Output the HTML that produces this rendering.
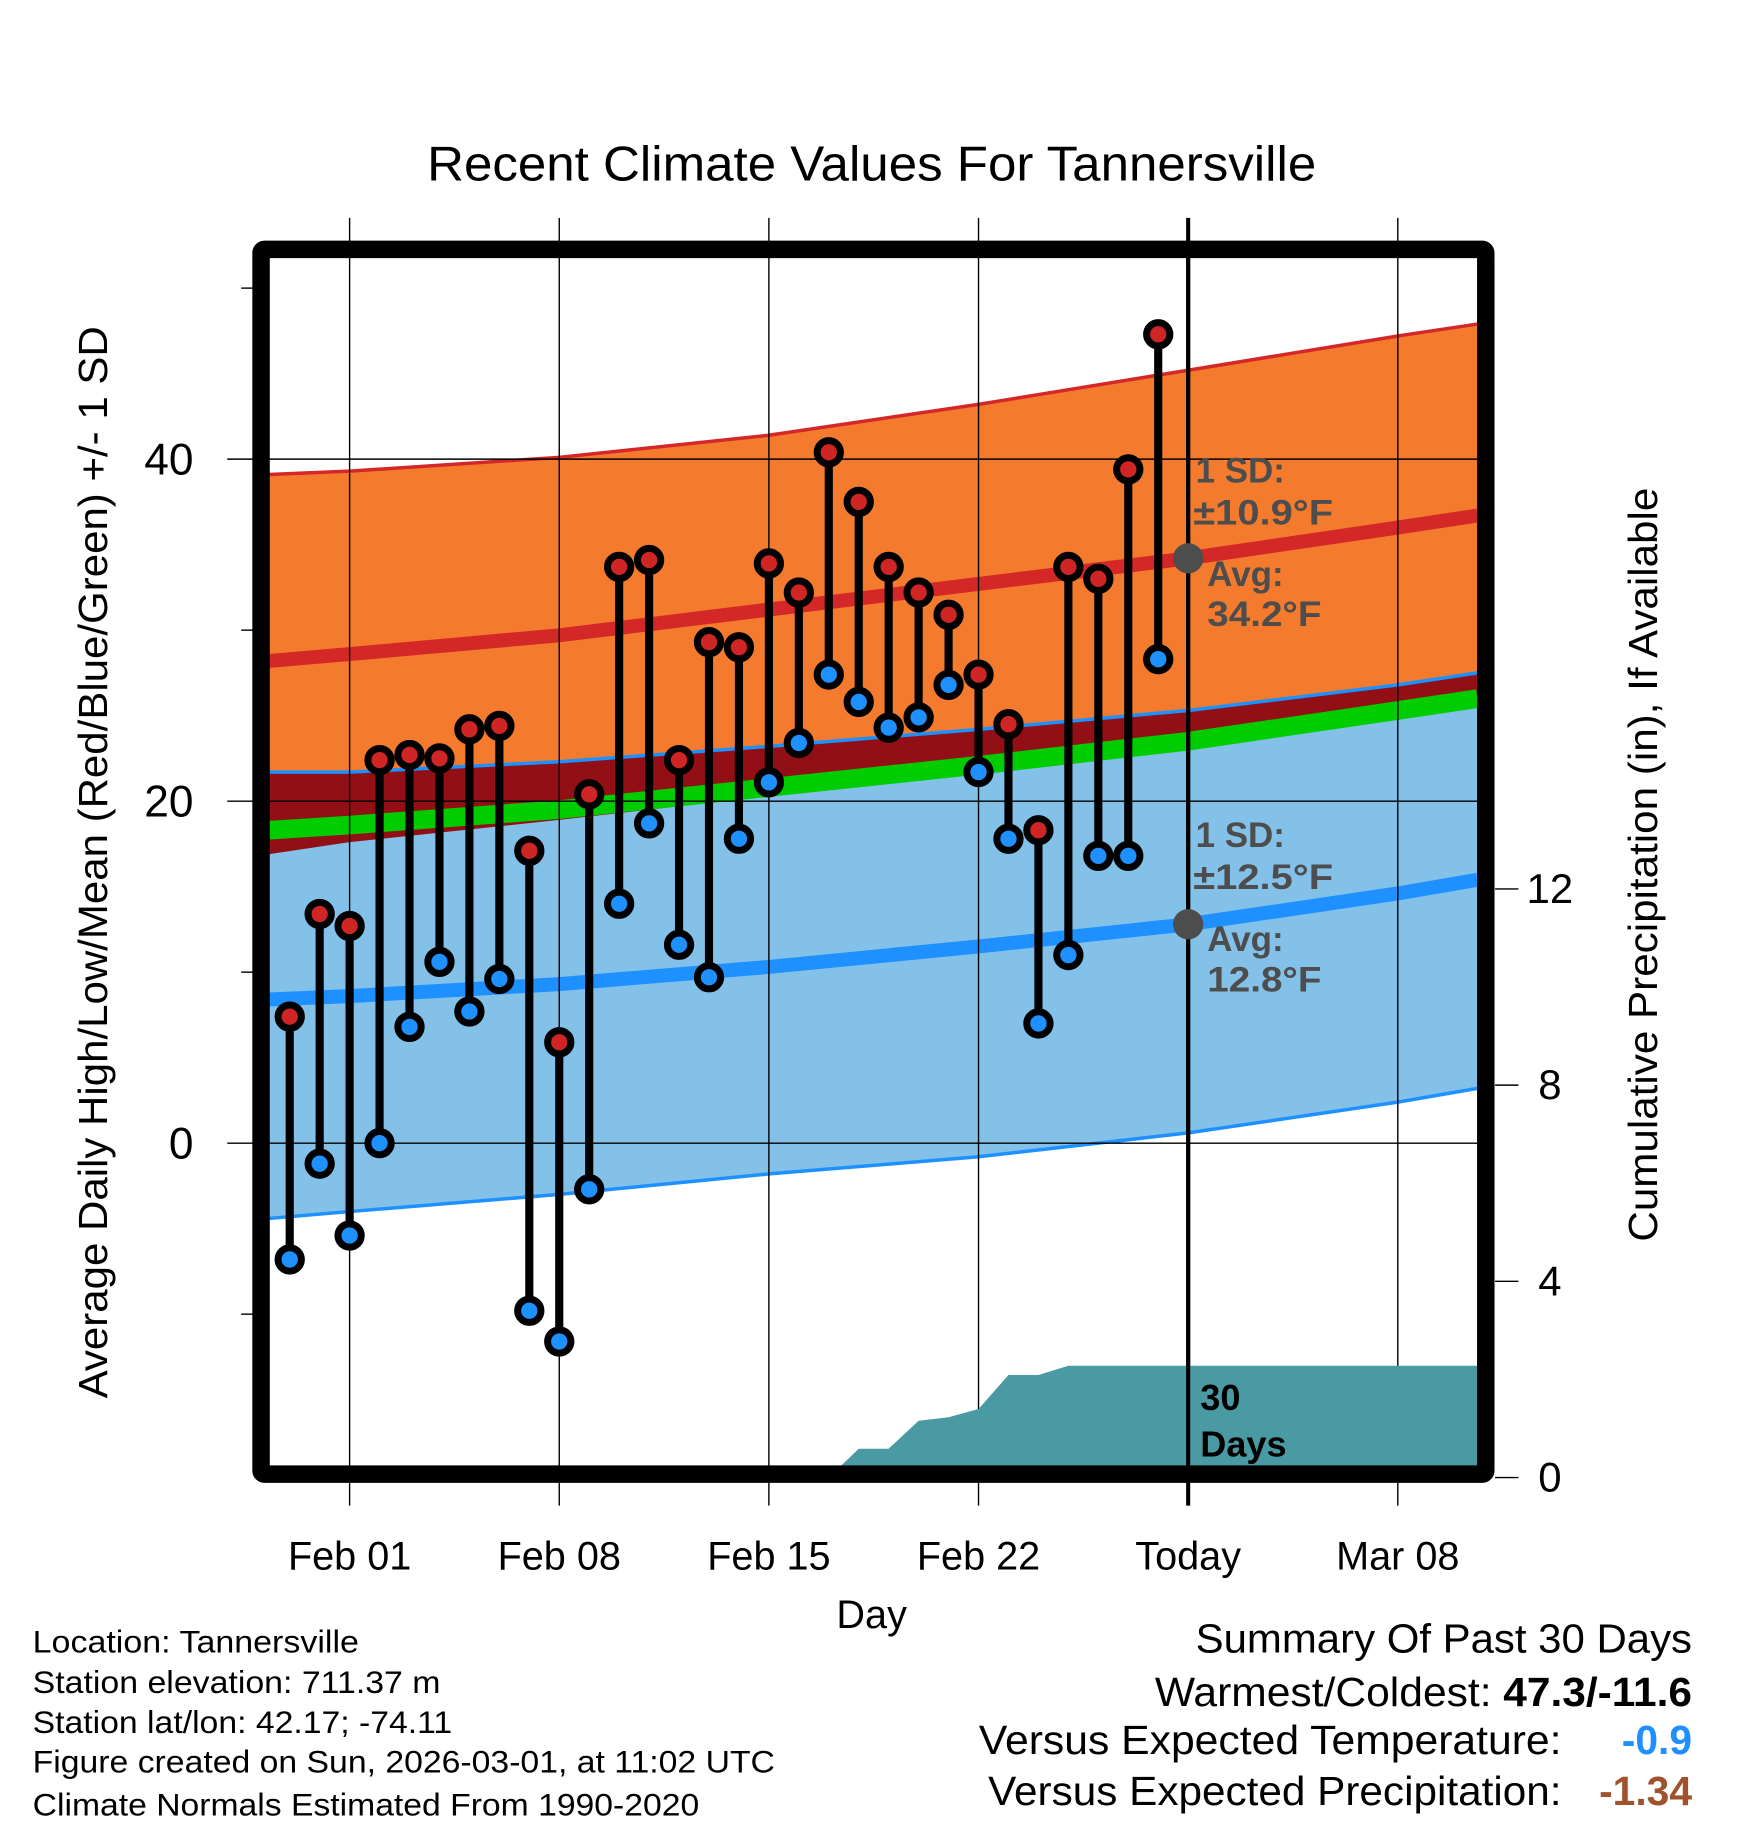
<!DOCTYPE html>
<html><head><meta charset="utf-8"><style>
html,body{margin:0;padding:0;background:#fff;}
svg{display:block;font-family:"Liberation Sans",sans-serif;}
</style></head><body>
<svg id="chart" xmlns="http://www.w3.org/2000/svg" width="1748" height="1828" viewBox="0 0 1500 1568.7">
<g id="bands"></g>
<g id="grid"></g>
<g id="precip"></g>
<g id="marks"></g>
<g id="frame"></g>
<g id="labels"></g>
</svg>
<script>
// ---- data ----
const days = [-2,-1,0,1,2,3,4,5,6,7,8,9,10,11,12,13,14,15,16,17,18,19,20,21,22,23,24,25,26,27];
const highs = [7.4,13.4,12.7,22.4,22.7,22.5,24.2,24.4,17.1,5.9,20.4,33.7,34.1,22.4,29.3,29.0,33.9,32.2,40.4,37.5,33.7,32.2,30.9,27.4,24.5,18.3,33.7,33.0,39.4,47.3];
const lows = [-6.8,-1.2,-5.4,0,6.8,10.6,7.7,9.6,-9.8,-11.6,-2.7,14.0,18.7,11.6,9.7,17.8,21.1,23.4,27.4,25.8,24.3,24.9,26.8,21.7,17.8,7.0,11.0,16.8,16.8,28.3];
const normDays = [-2.68,0,7,14,21,28,35,37.66];
const highUpper = [39.1,39.3,40.1,41.4,43.2,45.2,47.2,47.9];
const highMean = [28.2,28.6,29.7,31.2,32.7,34.2,36.0,36.7];
const highLower = [16.9,17.6,18.9,20.3,21.8,23.3,25.2,26.0];
const lowUpper = [21.7,21.7,22.3,23.2,24.2,25.3,26.8,27.5];
const lowMean = [8.4,8.6,9.3,10.3,11.5,12.8,14.6,15.4];
const lowLower = [-4.4,-4.0,-3.0,-1.8,-0.8,0.6,2.4,3.2];
const meanLine = [18.3,18.6,19.5,20.8,22.1,23.5,25.3,26.0];
const precipDays = [15.6,16,17,18,19,20,21,22,23,24,37.66];
const precipVals = [0,0,0.59,0.59,1.16,1.23,1.40,2.09,2.09,2.28,2.28];
const xTickDays = [0,7,14,21,28,35];
const xTickLabels = ["Feb 01","Feb 08","Feb 15","Feb 22","Today","Mar 08"];
const yTicks = [0,20,40];
const yMinor = [-10,10,30,50];
const pTicks = [0,4,8,12];

// ---- axes ----
const X0=231,X1=1268,Y0=221,Y1=1259;
const xs = d => 300 + d*25.7;
const ys = t => 981 - t*14.675;
const ps = p => 1268 - p*42.1;
const NS="http://www.w3.org/2000/svg";
function mk(tag, attrs, parent){const e=document.createElementNS(NS,tag);for(const k in attrs)e.setAttribute(k,attrs[k]);parent.appendChild(e);return e;}
const G=id=>document.getElementById(id);

function lineD(arr){return arr.map((v,i)=>(i?'L':'M')+xs(normDays[i]).toFixed(1)+','+ys(v).toFixed(1)).join(' ');}
function bandD(up,lo){let d=lineD(up);for(let i=lo.length-1;i>=0;i--)d+=' L'+xs(normDays[i]).toFixed(1)+','+ys(lo[i]).toFixed(1);return d+' Z';}
const defs=mk('defs',{},G('chart'));
const cp=mk('clipPath',{id:'clipplot'},defs);
mk('rect',{x:X0,y:Y0,width:X1-X0,height:Y1-Y0},cp);

const B=G('bands'); B.setAttribute('clip-path','url(#clipplot)');
let e;
e=mk('path',{d:bandD(highUpper,highLower),fill:'#f47b2e'},B);


e=mk('path',{d:bandD(lowUpper,lowLower),fill:'#83c1e8'},B);


const ovUp=lowUpper.map((v,i)=>Math.min(v,highUpper[i])), ovLo=highLower.map((v,i)=>Math.max(v,lowLower[i]));
e=mk('path',{d:bandD(ovUp,ovLo),fill:'#920f15'},B);


e=mk('path',{d:lineD(meanLine),fill:'none',stroke:'#00cc00','stroke-width':16},B);


e=mk('path',{d:lineD(highUpper),fill:'none',stroke:'#d42828','stroke-width':3},B);


e=mk('path',{d:lineD(highMean),fill:'none',stroke:'#d42828','stroke-width':12},B);


e=mk('path',{d:lineD(lowUpper),fill:'none',stroke:'#1e90ff','stroke-width':3},B);


e=mk('path',{d:lineD(lowMean),fill:'none',stroke:'#1e90ff','stroke-width':12},B);


e=mk('path',{d:lineD(lowLower),fill:'none',stroke:'#1e90ff','stroke-width':3},B);



// grid
const GR=G('grid');
xTickDays.forEach(d=>{e=mk('line',{x1:xs(d),x2:xs(d),y1:187,y2:1292,stroke:'#000','stroke-width':d===28?3.5:1.2},GR);

});
yTicks.forEach(t=>{e=mk('line',{x1:195,x2:X1,y1:ys(t),y2:ys(t),stroke:'#000','stroke-width':1.2},GR);

});
yMinor.forEach(t=>{e=mk('line',{x1:207,x2:217,y1:ys(t),y2:ys(t),stroke:'#000','stroke-width':1.2},GR);

});
pTicks.forEach(p=>{e=mk('line',{x1:1283,x2:1303,y1:ps(p),y2:ps(p),stroke:'#000','stroke-width':1.2},GR);

});

// precip
const P=G('precip'); P.setAttribute('clip-path','url(#clipplot)');
let pd='M'+xs(precipDays[0])+','+ps(0);
precipDays.forEach((d,i)=>pd+=' L'+xs(d).toFixed(1)+','+ps(precipVals[i]).toFixed(1));
pd+=' L'+xs(precipDays[precipDays.length-1]).toFixed(1)+','+ps(0)+' Z';
e=mk('path',{d:pd,fill:'#4a9aa4'},P);


e=mk('line',{x1:xs(28),x2:xs(28),y1:Y0,y2:Y1,stroke:'#000','stroke-width':3.5},P);



// marks
const M=G('marks');
days.forEach((d,i)=>{
  const x=xs(d);
  e=mk('line',{x1:x,x2:x,y1:ys(highs[i]),y2:ys(lows[i]),stroke:'#000','stroke-width':7},M);
  
  
});
days.forEach((d,i)=>{
  const x=xs(d);
  e=mk('circle',{cx:x,cy:ys(highs[i]),r:10,fill:'#d02525',stroke:'#000','stroke-width':6},M);
  
  
  e=mk('circle',{cx:x,cy:ys(lows[i]),r:10,fill:'#1e90ff',stroke:'#000','stroke-width':6},M);
  
  
});
e=mk('circle',{cx:xs(28),cy:ys(highMean[5]),r:13,fill:'#4d4d4d'},M);


e=mk('circle',{cx:xs(28),cy:ys(lowMean[5]),r:13,fill:'#4d4d4d'},M);



// frame
e=mk('rect',{x:224,y:214,width:1051,height:1051,fill:'none',stroke:'#000','stroke-width':15,rx:3},G('frame'));



// labels
const L=G('labels');
function txt(s,a,name){const t=mk('text',a,L);t.textContent=s;return t;}
function fit(a,len){a.textLength=len;a.lengthAdjust='spacingAndGlyphs';return a;}
txt('Recent Climate Values For Tannersville',fit({x:748,y:155,'font-size':42,'text-anchor':'middle'},763),'chart-title');
xTickDays.forEach((d,i)=>txt(xTickLabels[i],{x:xs(d),y:1347,'font-size':34,'text-anchor':'middle'},'x-tick-label'));
txt('Day',{x:748,y:1397,'font-size':34,'text-anchor':'middle'},'x-axis-title');
yTicks.forEach(t=>txt(String(t),{x:166,y:ys(t)+13,'font-size':38,'text-anchor':'end'},'y-tick-label'));
pTicks.forEach(p=>txt(String(p),{x:1330,y:ps(p)+12,'font-size':36,'text-anchor':'middle'},'precip-tick-label'));
txt('Average Daily High/Low/Mean (Red/Blue/Green) +/- 1 SD',fit({x:0,y:0,'font-size':35,'text-anchor':'middle',transform:'translate(92,740) rotate(-90)'},920),'y-axis-title');
txt('Cumulative Precipitation (in), If Available',fit({x:0,y:0,'font-size':35,'text-anchor':'middle',transform:'translate(1422,742) rotate(-90)'},647),'precip-axis-title');
const ann={'font-size':30,'font-weight':'bold',fill:'#4d4d4d'};
txt('1 SD:',Object.assign({x:1026,y:414},ann),'high-sd-label');
txt('±10.9°F',fit(Object.assign({x:1024,y:450},ann),120),'high-sd-value');
txt('Avg:',Object.assign({x:1036,y:503},ann),'high-avg-label');
txt('34.2°F',fit(Object.assign({x:1036,y:537},ann),98),'high-avg-value');
txt('1 SD:',Object.assign({x:1026,y:727},ann),'low-sd-label');
txt('±12.5°F',fit(Object.assign({x:1024,y:763},ann),120),'low-sd-value');
txt('Avg:',Object.assign({x:1036,y:816},ann),'low-avg-label');
txt('12.8°F',fit(Object.assign({x:1036,y:851},ann),98),'low-avg-value');
txt('30',{x:1030,y:1210,'font-size':31,'font-weight':'bold'},'precip-days-label');
txt('Days',{x:1030,y:1250,'font-size':31,'font-weight':'bold'},'precip-days-label-2');
const info=['Location: Tannersville','Station elevation: 711.37 m','Station lat/lon: 42.17; -74.11','Figure created on Sun, 2026-03-01, at 11:02 UTC','Climate Normals Estimated From 1990-2020'];
const iw=[280,350,360,637,572];
const iy=[1418,1453,1487,1521,1558];
info.forEach((s,i)=>txt(s,fit({x:28,y:iy[i],'font-size':27},iw[i]),'info-line'));
txt('Summary Of Past 30 Days',fit({x:1452,y:1418,'font-size':35,'text-anchor':'end'},426),'summary-title');
txt('Warmest/Coldest:',fit({x:1280,y:1464,'font-size':35,'text-anchor':'end'},289),'warmest-coldest-label');
txt('47.3/-11.6',fit({x:1452,y:1464,'font-size':35,'text-anchor':'end','font-weight':'bold'},162),'warmest-coldest-value');
txt('Versus Expected Temperature:',fit({x:1340,y:1505,'font-size':35,'text-anchor':'end'},500),'temp-anomaly-label');
txt('-0.9',{x:1452,y:1505,'font-size':35,'text-anchor':'end','font-weight':'bold',fill:'#1e90ff'},'temp-anomaly-value');
txt('Versus Expected Precipitation:',fit({x:1340,y:1549,'font-size':35,'text-anchor':'end'},492),'precip-anomaly-label');
txt('-1.34',{x:1452,y:1549,'font-size':35,'text-anchor':'end','font-weight':'bold',fill:'#a0522d'},'precip-anomaly-value');
</script>
</body></html>
